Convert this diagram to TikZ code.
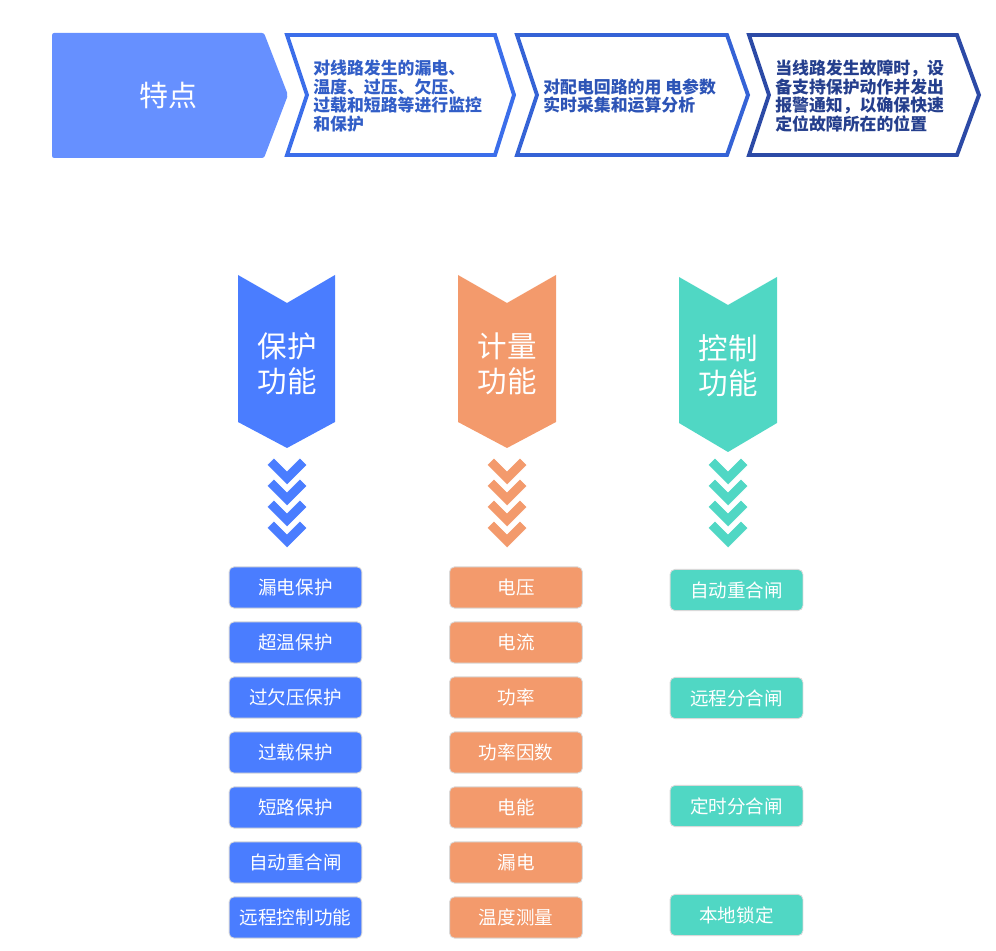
\documentclass[tikz,border=0pt]{standalone}
\usepackage{fontspec}
\setmainfont{Noto Sans CJK SC}
\usepackage{tikz, xcolor}

\definecolor{headblue}{HTML}{6690FF}
\definecolor{lineblue}{HTML}{3B6EEA}
\definecolor{midblue}{HTML}{3563D6}
\definecolor{navyblue}{HTML}{2C4AA6}
\definecolor{protblue}{HTML}{4A7DFF}
\definecolor{meterorange}{HTML}{F39A6C}
\definecolor{ctrlteal}{HTML}{50D7C4}

\begin{document}
\begin{tikzpicture}
	[
		x=0.025cm, y=-0.025cm,
		headtext/.style={align=left,anchor=west,inner sep=0pt,font=\bfseries\fontsize{12}{13.2}\selectfont},
		bigtext/.style={align=center,text=white,inner sep=0pt,font=\fontsize{21}{25}\selectfont},
		funcbox/.style={rounded corners=3.5pt,draw=black!15,line width=0.6pt,minimum width=3.32cm,minimum height=1.03cm,inner sep=0pt,text=white,font=\fontsize{13.2}{15}\selectfont}
	]
	\useasboundingbox (0,0) rectangle (996,951);

	% Draw header band.
	\fill[headblue, rounded corners=1.5pt] (52,33) -- (264,33) -- (288,95) -- (264,158) -- (52,158) -- cycle;
	\node[text=white, font=\fontsize{20.6}{24}\selectfont] (trait) at (168,95) {特点};

	\draw[lineblue, line width=2.8pt, line join=miter]
	        (287,35) -- (495,35) -- (514,95) -- (495,155) -- (287,155) -- (307,95) -- cycle;
	\draw[midblue, line width=2.8pt, line join=miter]
	        (517,35) -- (727,35) -- (748,95) -- (727,155) -- (517,155) -- (537,95) -- cycle;
	\draw[navyblue, line width=2.8pt, line join=miter]
	        (749,35) -- (957,35) -- (979,95) -- (957,155) -- (749,155) -- (769,95) -- cycle;

	\node[headtext, text=lineblue!85!black] (trait1) at (313,96)
	        {对线路发生的漏电、\\温度、过压、欠压、\\过载和短路等进行监控\\和保护};
	\node[headtext, text=midblue!85!black] (trait2) at (543,96)
	        {对配电回路的用 电参数\\实时采集和运算分析};
	\node[headtext, text=navyblue!85!black] (trait3) at (775,96)
	        {当线路发生故障时，设\\备支持保护动作并发出\\报警通知，以确保快速\\定位故障所在的位置};

	% Draw function headers.
	\fill[protblue] (238,275) -- (287,303) -- (335,275) -- (335,422) -- (287,448) -- (238,422) -- cycle;
	\fill[meterorange] (458,275) -- (507,303) -- (556,275) -- (556,422) -- (507,448) -- (458,422) -- cycle;
	\fill[ctrlteal] (679,277) -- (728,305) -- (777,277) -- (777,423) -- (728,452) -- (679,423) -- cycle;

	\node[bigtext] (prot) at (287,364) {保护\\功能};
	\node[bigtext] (meter) at (507,364) {计量\\功能};
	\node[bigtext] (ctrl) at (728,366) {控制\\功能};

	% Draw small chevrons.
	\foreach \cx/\col in {287/protblue, 507/meterorange, 728/ctrlteal}
	    \foreach \k in {458,479,500,521}
	        \filldraw[fill=\col, draw=white, line width=0.5pt]
	                (\cx-20,\k+7) -- (\cx-13,\k) -- (\cx,\k+13) -- (\cx+13,\k)
	                -- (\cx+20,\k+7) -- (\cx,\k+27) -- cycle;

	% Protection column.
	\node[funcbox, fill=protblue] (prot1) at (295.5,587.5) {漏电保护};
	\node[funcbox, fill=protblue] (prot2) at (295.5,642.5) {超温保护};
	\node[funcbox, fill=protblue] (prot3) at (295.5,697.5) {过欠压保护};
	\node[funcbox, fill=protblue] (prot4) at (295.5,752.5) {过载保护};
	\node[funcbox, fill=protblue] (prot5) at (295.5,807.5) {短路保护};
	\node[funcbox, fill=protblue] (prot6) at (295.5,862.5) {自动重合闸};
	\node[funcbox, fill=protblue] (prot7) at (295.5,917.5) {远程控制功能};

	% Metering column.
	\node[funcbox, fill=meterorange] (meter1) at (516,587.5) {电压};
	\node[funcbox, fill=meterorange] (meter2) at (516,642.5) {电流};
	\node[funcbox, fill=meterorange] (meter3) at (516,697.5) {功率};
	\node[funcbox, fill=meterorange] (meter4) at (516,752.5) {功率因数};
	\node[funcbox, fill=meterorange] (meter5) at (516,807.5) {电能};
	\node[funcbox, fill=meterorange] (meter6) at (516,862.5) {漏电};
	\node[funcbox, fill=meterorange] (meter7) at (516,917.5) {温度测量};

	% Control column.
	\node[funcbox, fill=ctrlteal] (ctrl1) at (736.5,590) {自动重合闸};
	\node[funcbox, fill=ctrlteal] (ctrl2) at (736.5,698) {远程分合闸};
	\node[funcbox, fill=ctrlteal] (ctrl3) at (736.5,806) {定时分合闸};
	\node[funcbox, fill=ctrlteal] (ctrl4) at (736.5,915) {本地锁定};
\end{tikzpicture}
\end{document}
